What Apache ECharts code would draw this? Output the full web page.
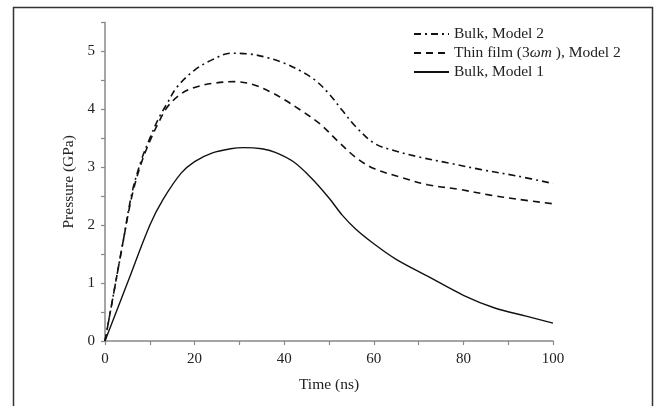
<!DOCTYPE html>
<html>
<head>
<meta charset="utf-8">
<script src="https://cdn.jsdelivr.net/npm/echarts@6/dist/echarts.min.js"></script>
<style>
html, body { margin: 0; padding: 0; background: #fff; }
#chart { width: 654px; height: 406px; }
</style>
</head>
<body>
<div id="chart"></div>
<script>
// Bulk, Model 2 (dash-dot)
var bulk2Time = [0, 2, 4, 6, 8, 10, 12, 14, 16, 20, 24, 28, 32, 36, 40, 44, 47, 50, 53, 56, 60, 64, 70, 77, 84, 92, 100]
var bulk2Pressure = [0, 0.85, 1.7, 2.55, 3.1, 3.5, 3.85, 4.12, 4.38, 4.68, 4.86, 4.97, 4.96, 4.9, 4.8, 4.65, 4.5, 4.27, 3.98, 3.7, 3.42, 3.3, 3.18, 3.07, 2.96, 2.85, 2.72]
// Thin film (3ωm), Model 2 (dashed)
var filmTime = [0, 2, 4, 6, 8, 10, 12, 14, 17, 20, 24, 29, 33, 37, 40, 44, 48, 52, 56, 60, 66, 72, 79, 86, 92, 100]
var filmPressure = [0, 0.85, 1.7, 2.5, 3.05, 3.45, 3.78, 4.05, 4.27, 4.38, 4.45, 4.48, 4.43, 4.3, 4.17, 3.97, 3.75, 3.45, 3.17, 2.98, 2.83, 2.7, 2.62, 2.52, 2.45, 2.37]
// Bulk, Model 1 (solid)
var bulk1Time = [0, 5, 10, 13, 17, 20, 24, 28, 31, 35, 38, 42, 46, 50, 53, 56, 60, 65, 72, 80, 87, 94, 100]
var bulk1Pressure = [0, 1.0, 2.0, 2.45, 2.9, 3.1, 3.25, 3.32, 3.34, 3.32, 3.26, 3.1, 2.82, 2.47, 2.17, 1.93, 1.68, 1.41, 1.12, 0.79, 0.57, 0.43, 0.31]

var seriesNames = ['Bulk, Model 2', 'Thin film (3ωm), Model 2', 'Bulk, Model 1']

function pairs(xs, ys) {
    return xs.map(function (x, i) { return [x, ys[i]] })
}

var serif = 'Liberation Serif'
var myChart = echarts.init(document.getElementById('chart'))

var option = {
    animation: false,
    backgroundColor: '#fff',
    textStyle: { fontFamily: serif },
    graphic: [
        {
            type: 'rect',
            shape: { x: 13.5, y: 7.5, width: 639, height: 420 },
            style: { fill: 'none', stroke: '#333', lineWidth: 1.5 },
            silent: true
        }
    ],
    grid: { left: 105, right: 101, top: 22.6, bottom: 65 },
    legend: {
        orient: 'vertical',
        left: 408,
        top: 21,
        itemWidth: 35,
        itemHeight: 10,
        itemGap: 3,
        itemStyle: { opacity: 0 },
        textStyle: {
            fontFamily: serif,
            fontSize: 15.5,
            color: '#222',
            rich: {
                a: { fontFamily: serif, fontSize: 15.5, color: '#222' },
                i: { fontFamily: serif, fontSize: 15.5, color: '#222', fontStyle: 'italic' }
            }
        },
        formatter: function (name) {
            if (name === seriesNames[1]) {
                return '{a|Thin film (3}{i|ωm}{a| ), Model 2}'
            }
            return '{a|' + name + '}'
        },
        data: seriesNames
    },
    xAxis: {
        type: 'value',
        min: 0,
        max: 100,
        interval: 10,
        name: 'Time (ns)',
        nameLocation: 'middle',
        nameGap: 36,
        nameTextStyle: { fontFamily: serif, fontSize: 15.5, color: '#222' },
        axisLine: { lineStyle: { color: '#888', width: 1.5 } },
        axisTick: { length: 4, lineStyle: { color: '#888', width: 1.2 } },
        axisLabel: {
            fontFamily: serif,
            fontSize: 15,
            color: '#222',
            margin: 11,
            formatter: function (v) { return v % 20 === 0 ? v : '' }
        },
        splitLine: { show: false }
    },
    yAxis: {
        type: 'value',
        min: 0,
        max: 5.5,
        interval: 0.5,
        name: 'Pressure (GPa)',
        nameLocation: 'middle',
        nameGap: 22,
        nameTextStyle: { fontFamily: serif, fontSize: 15.5, color: '#222' },
        axisLine: { show: true, lineStyle: { color: '#888', width: 1.5 } },
        axisTick: { show: true, length: 4, lineStyle: { color: '#888', width: 1.2 } },
        axisLabel: {
            fontFamily: serif,
            fontSize: 15,
            color: '#222',
            margin: 10,
            formatter: function (v) { return v % 1 === 0 ? v : '' }
        },
        splitLine: { show: false }
    },
    series: [
        {
            name: seriesNames[0],
            type: 'line',
            smooth: 0.35,
            symbol: 'none',
            itemStyle: { color: '#111' },
            lineStyle: { color: '#111', width: 1.6, type: [7, 4, 2, 4] },
            data: pairs(bulk2Time, bulk2Pressure)
        },
        {
            name: seriesNames[1],
            type: 'line',
            smooth: 0.35,
            symbol: 'none',
            itemStyle: { color: '#111' },
            lineStyle: { color: '#111', width: 1.6, type: [7, 5] },
            data: pairs(filmTime, filmPressure)
        },
        {
            name: seriesNames[2],
            type: 'line',
            smooth: 0.35,
            symbol: 'none',
            itemStyle: { color: '#111' },
            lineStyle: { color: '#111', width: 1.4 },
            data: pairs(bulk1Time, bulk1Pressure)
        }
    ]
}
myChart.setOption(option)

window.addEventListener('resize', function () {
    myChart.resize()
})
</script>
</body>
</html>
